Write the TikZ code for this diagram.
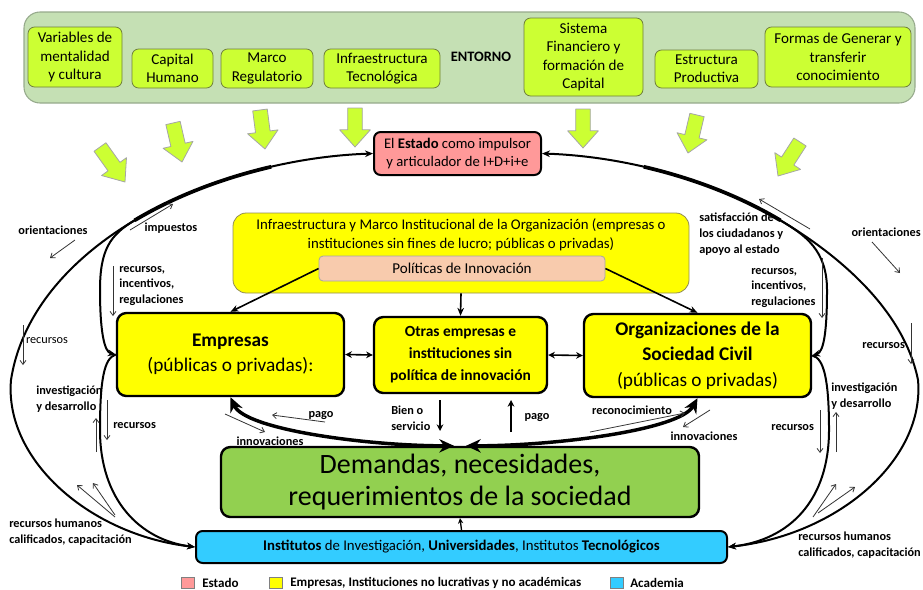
\documentclass[tikz,border=0pt]{standalone}
\usepackage{fontspec}
\setmainfont{Carlito}
\usetikzlibrary{arrows.meta,calc}
\definecolor{envbg}{RGB}{197,224,180}
\definecolor{envborder}{RGB}{150,170,140}
\definecolor{limeg}{RGB}{204,255,51}
\definecolor{limeborder}{RGB}{110,125,60}
\definecolor{estadopink}{RGB}{255,153,153}
\definecolor{yel}{RGB}{255,255,0}
\definecolor{peach}{RGB}{248,203,173}
\definecolor{demgreen}{RGB}{146,208,80}
\definecolor{acadblue}{RGB}{51,204,255}
\newcommand\fs[2]{\fontsize{#1}{#2}\selectfont}
\tikzset{
 sz/.style 2 args={minimum width={#1*0.75pt}, minimum height={#2*0.75pt}, inner sep=0pt},
 envtile/.style={draw=limeborder, fill=limeg, rounded corners=5pt, line width=0.6pt, align=center, font=\fs{11.3}{13.8}},
 mainbox/.style={draw=black, line width=1.8pt, rounded corners=7pt, fill=yel, align=center},
 conn/.style={line width=1.2pt, -{Stealth[length=6pt,width=5pt]}},
 conn2/.style={line width=1.2pt, {Stealth[length=5pt,width=5pt]}-{Stealth[length=5pt,width=5pt]}},
 bigcurve/.style={line width=1.5pt},
 thick2/.style={line width=2.6pt, {Stealth[length=11pt,width=10pt]}-{Stealth[length=11pt,width=10pt]}},
 lbl/.style={font=\bfseries\fs{9.2}{11.8}, align=left, inner sep=0pt},
 leg/.style={font=\bfseries\fs{9.8}{12}, inner sep=0pt},
 thinarr/.style={line width=0.6pt, draw=black!80, -{Straight Barb[length=3pt,width=4.5pt]}},
 blockarr/.style={fill=limeg, draw=gray!70, line width=0.6pt, line join=round},
}
\newcommand\blkarrow[2]{%
  \coordinate (bkA) at (#1); \coordinate (bkB) at (#2);
  \coordinate (bkM) at ($(bkA)!0.56!(bkB)$);
  \draw[blockarr] ($(bkA)!5.5pt!90:(bkB)$) -- ($(bkM)!5.5pt!90:(bkB)$) -- ($(bkM)!11.5pt!90:(bkB)$) -- (bkB) -- ($(bkM)!11.5pt!-90:(bkB)$) -- ($(bkM)!5.5pt!-90:(bkB)$) -- ($(bkA)!5.5pt!-90:(bkB)$) -- cycle;}
\begin{document}
\begin{tikzpicture}[x=0.75pt,y=-0.75pt]
\useasboundingbox (0,0) rectangle (923,589);
% Entorno band
\node[sz={891}{91}, draw=envborder, fill=envbg, rounded corners=12pt, line width=0.8pt] (env) at (469.5,57.5) {};
\node[envtile, sz={94}{60}] (t1) at (75,57) {Variables de\\mentalidad\\y cultura};
\node[envtile, sz={81}{39}] (t2) at (172.5,68.5) {Capital\\Humano};
\node[envtile, sz={92}{39}] (t3) at (267,68.5) {Marco\\Regulatorio};
\node[envtile, sz={116}{39}] (t4) at (382,68.5) {Infraestructura\\Tecnológica};
\node[font=\bfseries\fs{10.8}{12}] (entorno) at (481,57) {ENTORNO};
\node[envtile, sz={119}{78}] (t5) at (583.5,57) {Sistema\\Financiero y\\formación de\\Capital};
\node[envtile, sz={103}{38}] (t6) at (706.5,69) {Estructura\\Productiva};
\node[envtile, sz={146}{60}] (t7) at (838,57) {Formas de Generar y\\transferir\\conocimiento};
% block arrows
\blkarrow{100,147}{125,182}
\blkarrow{173,123}{182,162}
\blkarrow{260,110}{265,149}
\blkarrow{355,108}{355,147}
\blkarrow{583,109}{583,148}
\blkarrow{697,115}{688,153}
\blkarrow{800,142}{778,176}
% main nodes
\node[mainbox, fill=estadopink, line width=1.5pt, rounded corners=5pt, sz={167}{43}, font=\fs{11}{14}] (estado) at (457.5,153.5) {El \textbf{Estado} como impulsor\\y articulador de I+D+i+e};
\node[draw=gray!60!olive, fill=yel, rounded corners=10pt, sz={456}{80}, line width=0.6pt] (infra) at (461,253) {};
\node[font=\fs{11.1}{14}, align=center] (infratxt) at (461,235) {Infraestructura y Marco Institucional de la Organización (empresas o\\instituciones sin fines de lucro; públicas o privadas)};
\node[draw=gray!70, fill=peach, rounded corners=3pt, sz={286}{25}, font=\fs{11.3}{12}, line width=0.6pt] (polit) at (462,268.5) {Políticas de Innovación};
\node[mainbox, sz={227}{83}, font=\fs{14.5}{19}] (emp) at (230.5,354.5) {\textbf{Empresas}\\(públicas o privadas):};
\node[mainbox, sz={173}{76}, font=\bfseries\fs{11.6}{16.5}] (otras) at (460.5,355) {Otras empresas e\\instituciones sin\\política de innovación};
\node[mainbox, sz={227}{83}, font=\fs{14.5}{19}] (org) at (697.5,355.5) {\textbf{Organizaciones de la}\\\textbf{Sociedad Civil}\\(públicas o privadas)};
\node[mainbox, fill=demgreen, sz={478}{70}, font=\fs{21}{24}] (dem) at (460,482) {Demandas, necesidades,\\requerimientos de la sociedad};
\node[mainbox, fill=acadblue, line width=1.5pt, rounded corners=5pt, sz={531}{32}, font=\fs{11.1}{12}] (inst) at (461.5,547) {\textbf{Institutos} de Investigación, \textbf{Universidades}, Institutos \textbf{Tecnológicos}};
% connectors centre
\draw[conn] (polit.west) -- (emp.north);
\draw[conn] (polit.east) -- (org.north);
\draw[conn] (infra.south) -- (otras.north);
\draw[conn2] (emp.east) -- (otras.west);
\draw[conn2] (otras.east) -- (org.west);
\draw[thick2] (emp.south) .. controls (245,430) and (370,446) .. ($(dem.north)+(-6,0)$);
\draw[thick2] (org.south) .. controls (680,430) and (555,446) .. ($(dem.north)+(6,0)$);
\draw[line width=1pt, -{Stealth[length=4pt,width=4pt]}] (inst.north) -- (dem.south);
\draw[line width=1.2pt, -{Stealth[length=5pt,width=5pt]}] (440,400) coordinate (bs1) -- (440,431) coordinate (bs2);
\draw[line width=1.2pt, -{Stealth[length=5pt,width=5pt]}] (511,432) coordinate (pg1) -- (511,400) coordinate (pg2);
% big curves left
\draw[bigcurve, {Stealth[length=6pt,width=5pt]}-{Stealth[length=6pt,width=5pt]}] (estado.west) .. controls (287,156.5) and (201,180.75) .. (134.5,220.4) coordinate (LB) .. controls (68,260) and (21,315) .. (11,380) .. controls (4,460) and (90,535) .. (inst.west);
\draw[line width=2.8pt] (271.2,166.8) coordinate (LT) .. controls (221.3,178.4) and (174.4,196.6) .. (LB);
\draw[bigcurve, -{Stealth[length=6pt,width=5pt]}] (LB) .. controls (110,235) and (100,250) .. (100,290) .. controls (100,330) and (104,352) .. (emp.west);
\draw[bigcurve, -{Stealth[length=6pt,width=5pt]}] (emp.west) .. controls (104,358) and (100,380) .. (100,430) .. controls (100,500) and (140,540) .. (inst.west);
% big curves right
\draw[bigcurve, {Stealth[length=6pt,width=5pt]}-{Stealth[length=6pt,width=5pt]}] (estado.east) .. controls (628,156.5) and (714,180.75) .. (780.5,220.4) coordinate (RB) .. controls (847,260) and (905,315) .. (918,380) .. controls (925,460) and (838,535) .. (inst.east);
\draw[line width=2.8pt] (643.8,166.8) coordinate (RT) .. controls (693.7,178.4) and (740.6,196.6) .. (RB);
\draw[bigcurve, -{Stealth[length=6pt,width=5pt]}] (RB) .. controls (805,235) and (827,250) .. (827,290) .. controls (827,330) and (824,352) .. (org.east);
\draw[bigcurve, -{Stealth[length=6pt,width=5pt]}] (org.east) .. controls (824,358) and (829,380) .. (829,430) .. controls (829,500) and (790,540) .. (inst.east);
% thin arrows
\draw[thinarr] (75,240) coordinate (l1a) -- (50,258) coordinate (l1b);
\draw[thinarr] (130,230) coordinate (l2a) -- (173,204) coordinate (l2b);
\draw[thinarr] (113,266) coordinate (l3a) -- (113,316) coordinate (l3b);
\draw[thinarr] (23,325) coordinate (l4a) -- (23,365) coordinate (l4b);
\draw[thinarr] (96,452) coordinate (l5a) -- (96,418) coordinate (l5b);
\draw[thinarr] (107,400) coordinate (l6a) -- (107,440) coordinate (l6b);
\draw[thinarr] (115,517) coordinate (l7a) -- (77,485) coordinate (l7b);
\draw[thinarr] (115,515) coordinate (l8a) -- (93,483) coordinate (l8b);
\draw[thinarr] (810,229) coordinate (r1a) -- (759,199) coordinate (r1b);
\draw[thinarr] (872,242) coordinate (r2a) -- (900,273) coordinate (r2b);
\draw[thinarr] (822,258) coordinate (r3a) -- (822,318) coordinate (r3b);
\draw[thinarr] (911,323) coordinate (r4a) -- (911,364) coordinate (r4b);
\draw[thinarr] (836,452) coordinate (r5a) -- (836,412) coordinate (r5b);
\draw[thinarr] (820,410) coordinate (r6a) -- (820,453) coordinate (r6b);
\draw[thinarr] (813,517) coordinate (r7a) -- (836,484) coordinate (r7b);
\draw[thinarr] (818,513) coordinate (r8a) -- (855,487) coordinate (r8b);
\draw[thinarr] (325,422) coordinate (c1a) -- (272,415) coordinate (c1b);
\draw[thinarr] (225,414) coordinate (c2a) -- (265,432) coordinate (c2b);
\draw[thinarr] (590,432) coordinate (c3a) -- (685,413) coordinate (c3b);
\draw[thinarr] (710,410) coordinate (c4a) -- (683,427) coordinate (c4b);
% labels
\node[lbl] (l_or) at (53,230) {orientaciones};
\node[lbl] (l_imp) at (171,228) {impuestos};
\node[lbl, anchor=west] (l_rir) at (119,286) {recursos,\\incentivos,\\regulaciones};
\node[font=\fs{9.2}{11}, inner sep=0pt] (l_rec1) at (47,341) {recursos};
\node[lbl, anchor=west] (l_id) at (36,399) {investigación\\y desarrollo};
\node[lbl, anchor=west] (l_rec2) at (113,426) {recursos};
\node[lbl, anchor=west] (l_rh) at (9,532) {recursos humanos\\calificados, capacitación};
\node[lbl, anchor=west] (r_sat) at (699,234) {satisfacción de\\los ciudadanos y\\apoyo al estado};
\node[lbl, anchor=east] (r_or) at (921,232) {orientaciones};
\node[lbl, anchor=west] (r_rir) at (751,288) {recursos,\\incentivos,\\regulaciones};
\node[lbl, anchor=west] (r_rec) at (862,346) {recursos};
\node[lbl, anchor=west] (r_id) at (831,396) {investigación\\y desarrollo};
\node[lbl, anchor=west] (r_rec2) at (771,428) {recursos};
\node[lbl, anchor=east] (r_rh) at (921,545) {recursos humanos\\calificados, capacitación};
\node[lbl] (c_pago1) at (321,416) {pago};
\node[lbl] (c_inn1) at (270,441) {innovaciones};
\node[lbl, anchor=west] (c_bien) at (391,418) {Bien o\\servicio};
\node[lbl] (c_pago2) at (537,418) {pago};
\node[lbl] (c_rec) at (632,410) {reconocimiento};
\node[lbl] (c_inn2) at (704,436) {innovaciones};
% legend
\node[draw=gray, fill=estadopink, sz={13}{11}] (lg1) at (187.5,583) {};
\node[leg, anchor=west] (lg1t) at (202,583) {Estado};
\node[draw=gray, fill=yel, sz={13}{11}] (lg2) at (275.5,583) {};
\node[leg, anchor=west] (lg2t) at (290,583) {Empresas, Instituciones no lucrativas y no académicas};
\node[draw=gray, fill=acadblue, sz={13}{11}] (lg3) at (616.5,583) {};
\node[leg, anchor=west] (lg3t) at (630,583) {Academia};
\end{tikzpicture}
\end{document}
